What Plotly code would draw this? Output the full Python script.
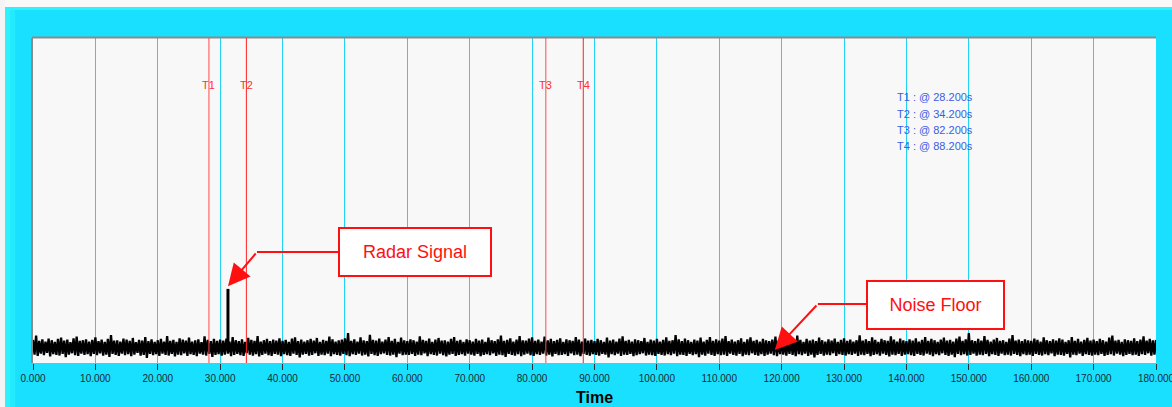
import numpy as np
import plotly.graph_objects as go

# ---- data -------------------------------------------------------------
# Noise-floor peaks, sampled every 0.5 s from 0 to 180 s (relative amplitude)
noise_upper = [
    7.1, 8.4, 6.8, 7.3, 6.6, 7.5, 7.0, 6.5, 7.4, 7.8, 6.9, 7.2, 6.4, 7.6, 8.1, 6.8, 7.0, 7.3, 6.6, 7.1,
    7.9, 6.7, 7.2, 6.5, 7.4, 8.6, 6.9, 7.0, 6.6, 7.5, 7.2, 6.8, 7.7, 6.4, 7.1, 6.9, 8.0, 6.7, 7.3, 6.5,
    7.0, 7.4, 6.6, 8.3, 6.8, 7.1, 6.5, 7.6, 7.2, 6.9, 7.8, 6.6, 7.0, 7.3, 6.4, 8.2, 7.1, 6.7, 7.4, 6.8,
    7.2, 6.9, 7.5, 6.6, 8.0, 7.0, 6.7, 7.3, 6.5, 7.7, 7.1, 6.8, 8.3, 6.6, 7.0, 7.4, 6.7, 7.2, 6.9, 7.6,
    6.8, 7.1, 6.5, 7.5, 7.9, 6.7, 7.2, 6.6, 7.0, 7.4, 6.9, 7.7, 6.5, 7.1, 6.8, 8.1, 7.3, 6.6, 7.0, 7.2,
    7.6, 9.2, 6.8, 7.3, 6.6, 7.9, 7.0, 6.7, 8.7, 7.1, 6.9, 7.5, 6.6, 7.2, 8.0, 6.8, 7.4, 6.5, 7.8, 7.0,
    6.7, 7.3, 7.0, 6.6, 8.2, 7.1, 6.8, 7.5, 6.5, 7.2, 7.7, 6.9, 7.0, 6.6, 7.4, 8.0, 6.8, 7.1, 6.5, 7.3,
    7.0, 6.6, 7.4, 6.9, 7.2, 6.5, 7.8, 7.0, 6.7, 7.3, 8.4, 6.8, 7.1, 7.6, 6.6, 7.2, 8.3, 7.0, 6.9, 7.5,
    7.9, 6.8, 7.2, 6.6, 8.1, 7.0, 7.4, 6.7, 7.1, 7.6, 6.5, 7.3, 7.0, 6.8, 8.0, 7.2, 6.6, 7.5, 6.9, 7.1,
    6.7, 7.4, 7.0, 6.5, 7.8, 6.9, 7.2, 6.6, 7.5, 8.2, 6.8, 7.1, 6.6, 7.3, 7.0, 6.7, 7.7, 6.5, 7.2, 6.9,
    7.4, 6.6, 7.1, 7.9, 6.8, 7.0, 8.6, 7.3, 6.7, 7.5, 7.0, 6.5, 7.2, 6.9, 7.8, 6.6, 7.1, 8.0, 6.8, 7.3,
    6.9, 7.5, 8.3, 6.7, 7.2, 6.6, 7.0, 7.6, 6.5, 7.3, 7.9, 6.8, 7.1, 6.6, 7.4, 7.0, 6.7, 7.2, 8.1, 6.9,
    7.3, 6.6, 7.0, 7.7, 6.8, 8.4, 7.1, 6.5, 7.4, 6.9, 7.2, 6.7, 7.8, 7.0, 6.6, 7.3, 6.9, 7.5, 6.5, 7.1,
    7.6, 6.8, 7.2, 6.6, 7.0, 8.5, 6.9, 7.3, 6.7, 7.9, 7.1, 6.5, 7.4, 7.0, 6.8, 8.2, 7.2, 6.6, 7.5, 7.0,
    6.7, 7.3, 6.9, 7.6, 6.6, 7.1, 8.0, 6.8, 7.4, 7.0, 6.5, 7.2, 7.8, 6.9, 7.1, 6.6, 7.5, 8.1, 6.8, 7.3,
    9.2, 7.0, 6.7, 7.4, 6.9, 8.3, 7.1, 6.6, 7.2, 7.7, 6.8, 7.0, 6.5, 7.5, 8.6, 6.9, 7.2, 6.7, 7.3, 7.0,
    6.8, 7.5, 7.1, 6.6, 7.9, 7.0, 6.7, 7.3, 6.9, 7.6, 7.2, 6.5, 7.0, 8.0, 6.8, 7.4, 6.6, 7.1, 7.7, 6.9,
    7.2, 6.7, 7.4, 7.0, 6.6, 7.8, 8.4, 6.9, 7.1, 6.5, 7.3, 7.0, 6.8, 7.6, 6.7, 7.2, 8.2, 6.9, 7.4, 7.0,
    7.1,
]
# Noise-floor troughs, sampled every 0.5 s from 0.25 to 179.75 s
noise_lower = [
    2.6, 2.2, 2.9, 2.4, 3.1, 2.0, 2.7, 2.5, 2.3, 2.8, 1.8, 2.6, 3.0, 2.4, 2.2, 2.9, 2.5, 2.7, 2.1, 2.8,
    2.4, 3.0, 2.3, 2.6, 1.9, 2.8, 2.5, 2.2, 2.9, 2.4, 2.7, 2.1, 2.6, 3.1, 2.3, 2.5, 1.6, 2.8, 2.4, 2.7,
    2.2, 2.9, 2.5, 2.3, 2.8, 2.0, 2.6, 2.4, 3.0, 2.2, 2.7, 2.5, 2.1, 2.9, 2.6, 2.3, 2.8, 1.9, 2.5, 2.7,
    2.3, 2.6, 2.9, 2.1, 2.5, 2.8, 2.4, 2.2, 3.0, 2.6, 2.3, 2.7, 2.0, 2.5, 2.9, 2.4, 2.2, 2.8, 2.6, 2.1,
    2.7, 2.4, 2.2, 2.9, 2.5, 1.7, 2.6, 2.8, 2.3, 2.5, 3.0, 2.2, 2.6, 2.4, 2.9, 2.1, 2.7, 2.5, 2.3, 2.8,
    2.4, 2.1, 2.7, 2.5, 2.9, 2.3, 2.6, 2.0, 2.8, 2.4, 2.2, 2.7, 3.0, 2.5, 2.3, 2.6, 1.8, 2.9, 2.4, 2.6,
    2.5, 2.8, 2.2, 2.6, 2.4, 3.0, 2.1, 2.7, 2.5, 2.3, 2.9, 2.4, 2.0, 2.6, 2.8, 2.2, 2.5, 2.7, 2.3, 2.9,
    2.6, 2.3, 2.8, 2.1, 2.5, 2.7, 2.4, 3.0, 2.2, 2.6, 2.4, 1.9, 2.8, 2.5, 2.3, 2.7, 2.1, 2.6, 2.9, 2.4,
    2.2, 2.7, 2.5, 2.9, 2.3, 2.6, 2.0, 2.8, 2.4, 2.5, 2.7, 2.2, 3.0, 2.4, 2.6, 2.1, 2.8, 2.5, 2.3, 2.7,
    2.5, 2.3, 2.8, 2.6, 1.7, 2.7, 2.4, 2.9, 2.2, 2.6, 2.5, 2.8, 2.1, 2.4, 2.7, 3.0, 2.3, 2.6, 2.4, 2.2,
    2.8, 2.5, 2.3, 2.7, 2.4, 2.9, 2.1, 2.6, 2.5, 2.2, 2.8, 2.4, 2.7, 1.8, 2.6, 2.3, 2.9, 2.5, 2.2, 2.7,
    2.4, 2.6, 2.2, 2.9, 2.5, 2.3, 2.8, 2.1, 2.6, 2.4, 3.0, 2.5, 2.3, 2.7, 2.2, 2.6, 2.9, 2.4, 2.1, 2.7,
    2.6, 2.3, 2.8, 2.5, 2.1, 2.7, 2.4, 2.9, 2.2, 2.6, 1.7, 2.5, 2.8, 2.3, 2.6, 2.4, 3.0, 2.2, 2.7, 2.5,
    2.3, 2.7, 2.5, 2.9, 2.2, 2.6, 2.4, 2.8, 2.1, 2.5, 2.7, 2.3, 2.9, 2.5, 2.0, 2.6, 2.4, 2.8, 2.2, 2.6,
    2.7, 2.4, 2.2, 2.8, 2.5, 2.3, 2.9, 2.6, 2.1, 2.7, 2.4, 3.0, 2.5, 2.2, 2.6, 1.8, 2.8, 2.4, 2.7, 2.3,
    2.5, 2.9, 2.3, 2.6, 2.4, 2.8, 2.1, 2.7, 2.5, 2.2, 2.9, 2.4, 2.6, 2.3, 2.8, 2.5, 2.1, 2.7, 2.4, 2.6,
    2.2, 2.8, 2.5, 2.3, 2.7, 2.4, 3.0, 2.1, 2.6, 2.5, 2.3, 2.8, 1.7, 2.6, 2.4, 2.9, 2.2, 2.7, 2.5, 2.3,
    2.6, 2.4, 2.8, 2.2, 2.5, 2.7, 2.3, 2.9, 2.6, 2.1, 2.5, 2.8, 2.4, 2.6, 2.2, 2.7, 2.5, 3.0, 2.3, 2.6,
]
time_start, time_end = 0.0, 180.0
sample_step = 0.5

# Radar pulse (time in s, base and peak amplitude)
radar_time = 31.25
radar_base = 5.0
radar_peak = 22.8

# Cursor markers
marker_names = ["T1", "T2", "T3", "T4"]
marker_times = [28.2, 34.2, 82.2, 88.2]

tick_values = list(range(0, 181, 10))
tick_labels = [f"{v:.3f}" for v in tick_values]

# ---- styling ----------------------------------------------------------
FRAME = "#19e0ff"
GRID = "#22d2f2"
PLOT_BG = "#f8f8f8"
RED = "#ff2020"
FONT = "Arial, Liberation Sans, sans-serif"

# peaks and troughs alternate in time -> one continuous trace
t_peak = time_start + sample_step * np.arange(len(noise_upper))
t_trough = t_peak[:len(noise_lower)] + sample_step / 2
noise_t = np.empty(len(t_peak) + len(t_trough))
noise_v = np.empty_like(noise_t)
noise_t[0::2], noise_v[0::2] = t_peak, noise_upper
noise_t[1::2], noise_v[1::2] = t_trough, noise_lower

fig = go.Figure()
fig.add_trace(go.Scatter(x=noise_t, y=noise_v, mode="lines",
                         line=dict(color="black", width=2.3), hoverinfo="skip",
                         showlegend=False))
fig.add_trace(go.Scatter(x=[radar_time, radar_time], y=[radar_base, radar_peak],
                         mode="lines", line=dict(color="black", width=3),
                         showlegend=False))

shapes = []
annotations = []

# window chrome around the plot
shapes += [
    dict(type="rect", xref="paper", yref="paper", x0=-0.05, x1=1.05, y0=1.0954, y1=1.2,
         fillcolor="#f8f8f8", line_width=0, layer="below"),
    dict(type="rect", xref="paper", yref="paper", x0=-0.05, x1=-0.0249, y0=-0.2, y1=1.2,
         fillcolor="#f4f4f4", line_width=0, layer="below"),
    dict(type="rect", xref="paper", yref="paper", x0=-0.0249, x1=-0.0205, y0=-0.2, y1=1.0954,
         fillcolor="#2ef3ff", line_width=0, layer="below"),
    dict(type="rect", xref="paper", yref="paper", x0=-0.0205, x1=-0.0160, y0=-0.2, y1=1.0954,
         fillcolor="#24eaff", line_width=0, layer="below"),
    dict(type="rect", xref="paper", yref="paper", x0=-0.0249, x1=1.05, y0=1.0862, y1=1.0954,
         fillcolor="#2ef0ff", line_width=0, layer="below"),
    # sunken border of the plot area
    dict(type="line", xref="paper", yref="paper", x0=-0.0009, x1=1.0, y0=1.0015, y1=1.0015,
         line=dict(color="#8a8a8a", width=2), layer="above"),
    dict(type="line", xref="paper", yref="paper", x0=-0.0009, x1=-0.0009, y0=0, y1=1.0,
         line=dict(color="#8a8a8a", width=2), layer="above"),
]

# cursor lines with their labels and readout
for i, (name, t) in enumerate(zip(marker_names, marker_times)):
    shapes.append(dict(type="line", xref="x", yref="paper", x0=t, x1=t, y0=0, y1=1,
                       line=dict(color=RED if i % 2 else "#ff4a4a", width=1), layer="above"))
    annotations.append(dict(x=t, y=0.855, xref="x", yref="paper", text=name,
                            xanchor="center", yanchor="middle", showarrow=False,
                            font=dict(family=FONT, size=11, color="#ff3030")))
    annotations.append(dict(x=138.2, y=0.818 - i * 0.0505, xref="x", yref="paper",
                            xanchor="left", yanchor="middle",
                            text=f"{name} : @ {t:.3f}s", showarrow=False,
                            font=dict(family=FONT, size=11, color="#3c5ce6")))

# callouts: text, box centre (x, y), box width, box left edge, elbow (x, y), arrow tip (x, y)
callouts = [
    ("Radar Signal", 61.23, 34.15, 150, 49.05, 35.9, 34.15, radar_time, 23.6),
    ("Noise Floor", 144.66, 17.85, 135, 133.7, 125.8, 18.15, 118.9, 4.0),
]
for text, cx, cy, bw, bx, ex, ey, tx, ty in callouts:
    annotations.append(dict(x=cx, y=cy, xref="x", yref="y", text=text, showarrow=False,
                            font=dict(family=FONT, size=18, color="#ff1010"),
                            bgcolor="white", bordercolor="#ff1010", borderwidth=2,
                            borderpad=0, width=bw, height=46))
    shapes.append(dict(type="line", xref="x", yref="y", x0=bx, x1=ex, y0=ey, y1=ey,
                       line=dict(color="#ff1010", width=2), layer="above"))
    annotations.append(dict(x=tx, y=ty, xref="x", yref="y", ax=ex, ay=ey,
                            axref="x", ayref="y", text="", showarrow=True,
                            arrowhead=2, arrowsize=2.2, arrowwidth=2,
                            arrowcolor="#ff1010"))

fig.update_layout(
    width=1172, height=407,
    margin=dict(l=33, r=16, t=38, b=44),
    paper_bgcolor=FRAME, plot_bgcolor=PLOT_BG,
    font=dict(family=FONT, color="#1a2a33"),
    shapes=shapes, annotations=annotations,
    xaxis=dict(range=[time_start, time_end], tickvals=tick_values, ticktext=tick_labels,
               ticks="outside", ticklen=6, tickwidth=1, tickcolor="#303030",
               tickfont=dict(size=10, color="#1a2a33"), ticklabeloverflow="allow",
               automargin=False,
               showgrid=True, gridcolor=GRID, gridwidth=1, zeroline=False, showline=False,
               title=dict(text="<b>Time</b>", font=dict(size=16, color="black"), standoff=8)),
    yaxis=dict(range=[0, 100], showticklabels=False, showgrid=False, zeroline=False,
               showline=False, ticks="", automargin=False),
)

fig.write_html("out.html")
